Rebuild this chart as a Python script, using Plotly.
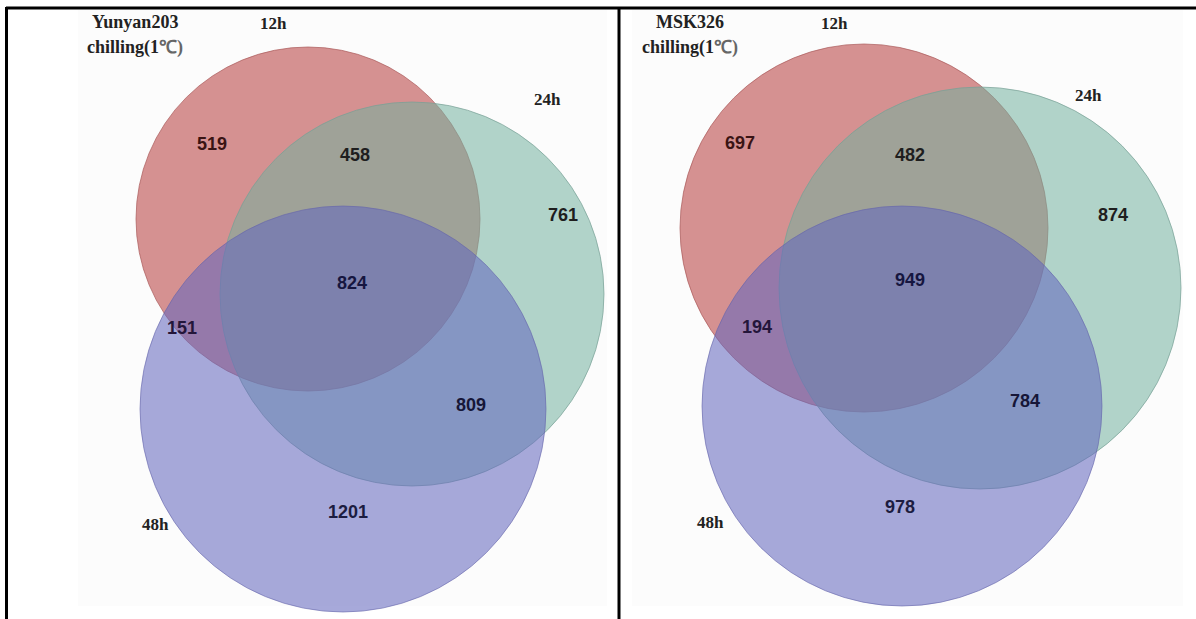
import plotly.graph_objects as go

# Region counts of differentially expressed genes for each cultivar
# order: 12h only, 12h&24h, 24h only, 12h&24h&48h, 12h&48h, 24h&48h, 48h only
regions = ["12h", "12h∩24h", "24h", "12h∩24h∩48h", "12h∩48h", "24h∩48h", "48h"]
yunyan203_counts = [519, 458, 761, 824, 151, 809, 1201]
msk326_counts = [697, 482, 874, 949, 194, 784, 978]

set_names = ["12h", "24h", "48h"]
panel_titles = [["Yunyan203", "chilling(1<span style='color:#666'>℃)</span>"],
                ["MSK326", "chilling(1<span style='color:#666'>℃)</span>"]]

W, H = 1196, 619

# circle layout (centre x, centre y, radius) in pixel space, per panel
circles = [
    [(308, 219, 172), (412, 294, 192), (343, 409, 203)],
    [(864, 228, 184), (980, 288, 201), (902, 406, 200)],
]
fills = ["rgba(177,50,50,0.53)", "rgba(115,177,159,0.55)", "rgba(100,104,190,0.57)"]
edges = ["rgba(170,90,90,0.7)", "rgba(120,160,150,0.7)", "rgba(100,100,170,0.6)"]

# label anchors for region counts
count_pos = [
    [(212, 144), (355, 155), (563, 215), (352, 283), (182, 328), (471, 405), (348, 512)],
    [(740, 143), (910, 155), (1113, 215), (910, 280), (757, 327), (1025, 401), (900, 507)],
]
count_colors = ["#3a1414", "#1e1e1e", "#1e1e1e", "#161640", "#24163a", "#161638", "#1c1c40"]
set_label_pos = [
    [(273, 23), (547, 99), (155, 524)],
    [(834, 23), (1088, 95), (710, 522)],
]
title_pos = [(135, 22, 47), (690, 22, 47)]
image_boxes = [(78, 10, 607, 606), (632, 10, 1183, 606)]

fig = go.Figure()
fig.add_trace(go.Scatter(x=[0, W], y=[0, H], mode="markers",
                         marker=dict(opacity=0), hoverinfo="skip", showlegend=False))

shapes = []
for (x0, y0, x1, y1) in image_boxes:
    shapes.append(dict(type="rect", xref="x", yref="y", x0=x0, y0=y0, x1=x1, y1=y1,
                       fillcolor="#fcfcfc", line=dict(width=0), layer="below"))
for panel in circles:
    for (cx, cy, r), fc, ec in zip(panel, fills, edges):
        shapes.append(dict(type="circle", xref="x", yref="y",
                           x0=cx - r, x1=cx + r, y0=cy - r, y1=cy + r,
                           fillcolor=fc, line=dict(color=ec, width=1), layer="below"))
# frame lines
shapes.append(dict(type="line", xref="x", yref="y", x0=6, x1=W, y0=8, y1=8,
                   line=dict(color="black", width=3)))
shapes.append(dict(type="line", xref="x", yref="y", x0=6.5, x1=6.5, y0=7, y1=H,
                   line=dict(color="black", width=3)))
shapes.append(dict(type="line", xref="x", yref="y", x0=619, x1=619, y0=7, y1=H,
                   line=dict(color="black", width=3)))

annotations = []
num_font = "Liberation Sans, Arial, sans-serif"
serif = "Liberation Serif, Times New Roman, serif"
for p, counts in enumerate([yunyan203_counts, msk326_counts]):
    for (x, y), v, c in zip(count_pos[p], counts, count_colors):
        annotations.append(dict(x=x, y=y, xref="x", yref="y", text=f"<b>{v}</b>",
                                showarrow=False, font=dict(family=num_font, size=18, color=c)))
    for (x, y), name in zip(set_label_pos[p], set_names):
        annotations.append(dict(x=x, y=y, xref="x", yref="y", text=f"<b>{name}</b>",
                                showarrow=False, font=dict(family=serif, size=17, color="#222")))
    tx, ty1, ty2 = title_pos[p]
    for y, line in zip((ty1, ty2), panel_titles[p]):
        annotations.append(dict(x=tx, y=y, xref="x", yref="y", text=f"<b>{line}</b>",
                                showarrow=False, font=dict(family=serif, size=18, color="#222")))

fig.update_layout(
    width=W, height=H, margin=dict(l=0, r=0, t=0, b=0),
    paper_bgcolor="white", plot_bgcolor="white",
    xaxis=dict(range=[0, W], visible=False, fixedrange=True),
    yaxis=dict(range=[H, 0], visible=False, fixedrange=True),
    shapes=shapes, annotations=annotations, showlegend=False,
)
fig.write_html("out.html")
